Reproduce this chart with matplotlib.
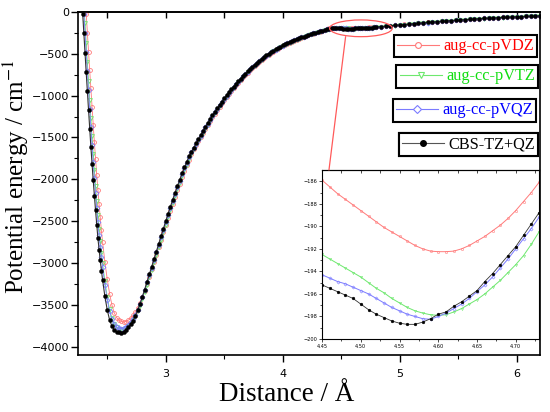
import numpy as np
import matplotlib
matplotlib.use('Agg')
import matplotlib.pyplot as plt
from matplotlib.patches import Ellipse, ConnectionPatch
from matplotlib.lines import Line2D

# distance grid of the scan (finer on the repulsive wall)
distance = np.round(np.concatenate([np.arange(2.26, 2.455, 0.01),
                                    np.arange(2.46, 4.805, 0.02),
                                    np.arange(4.84, 6.205, 0.04)]), 2)

vdz = [1350, 1130, 905, 677, 445, 213, -19, -247, -474, -696,
       -914, -1131, -1349, -1557, -1755, -1944, -2123, -2292, -2456, -2611,
       -2746, -2988, -3191, -3365, -3501, -3595, -3652, -3683, -3699, -3705,
       -3700, -3684, -3660, -3627, -3588, -3539, -3480, -3412, -3334, -3250,
       -3164, -3077, -2990, -2901, -2813, -2724, -2635, -2548, -2461, -2375,
       -2292, -2210, -2128, -2050, -1974, -1901, -1831, -1764, -1699, -1642,
       -1592, -1542, -1494, -1446, -1397, -1351, -1305, -1260, -1216, -1174,
       -1133, -1093, -1054, -1017, -981, -946, -911, -878, -845, -814,
       -783, -754, -725, -698, -671, -646, -621, -598, -574, -553,
       -532, -513, -493, -474, -456, -439, -424, -408, -394, -380,
       -367, -354, -342, -331, -319, -308, -298, -288, -278, -269,
       -259, -250, -242, -234, -226, -215, -205, -196, -190, -186.0,
       -186.5, -187.6, -188.6, -189.6, -190.5, -191.3, -192.0, -192.25, -192.2, -191.7,
       -190.9, -189.9, -188.6, -187.0, -185.2, -183.2, -181.0, -178.7,
       -174, -169, -164, -159, -154, -149, -144, -139, -134, -129,
       -124, -119, -115, -110, -106, -102, -98, -94, -90, -86,
       -83, -79, -76, -73, -70, -67, -64, -61, -59, -56,
       -54, -51, -49, -47, -45]

vtz = [1049, 812, 574, 337, 99, -136, -368, -599, -824, -1046,
       -1269, -1487, -1695, -1893, -2081, -2259, -2430, -2594, -2742, -2876,
       -3000, -3218, -3406, -3554, -3662, -3728, -3765, -3784, -3792, -3790,
       -3777, -3755, -3723, -3684, -3637, -3579, -3511, -3434, -3349, -3262,
       -3172, -3083, -2993, -2903, -2812, -2721, -2631, -2542, -2453, -2368,
       -2283, -2199, -2119, -2040, -1965, -1892, -1823, -1756, -1695, -1642,
       -1591, -1542, -1492, -1443, -1395, -1348, -1301, -1256, -1213, -1171,
       -1129, -1089, -1051, -1014, -977, -942, -907, -874, -842, -810,
       -780, -750, -722, -694, -668, -642, -618, -594, -572, -550,
       -530, -510, -490, -472, -454, -438, -422, -407, -393, -379,
       -366, -353, -342, -330, -319, -308, -297, -288, -278, -268,
       -259, -250, -242, -234, -226, -218, -210, -203, -197, -193,
       -192.9, -193.7, -194.5, -195.5, -196.4, -197.2, -197.7, -197.9, -197.6, -196.9,
       -196.0, -194.8, -193.4, -191.6, -189.5, -187.3, -185.0, -182.6,
       -177.5, -172.5, -167, -162, -157, -152, -147, -142, -137, -132,
       -127, -122, -117, -113, -108, -104, -100, -96, -92, -88,
       -85, -81, -78, -75, -72, -69, -66, -63, -61, -58,
       -56, -53, -51, -49, -47]

vqz = [929, 692, 454, 217, -20, -252, -484, -711, -934, -1156,
       -1378, -1591, -1793, -1986, -2169, -2342, -2510, -2668, -2806, -2934,
       -3053, -3260, -3438, -3577, -3673, -3732, -3763, -3779, -3785, -3780,
       -3764, -3740, -3706, -3665, -3616, -3556, -3486, -3407, -3321, -3233,
       -3144, -3055, -2964, -2874, -2783, -2692, -2603, -2514, -2427, -2342,
       -2258, -2175, -2095, -2017, -1942, -1870, -1802, -1736, -1678, -1626,
       -1576, -1526, -1477, -1428, -1380, -1334, -1287, -1243, -1199, -1158,
       -1116, -1077, -1039, -1002, -966, -931, -897, -864, -832, -800,
       -771, -741, -713, -686, -660, -634, -611, -587, -565, -543,
       -524, -504, -484, -466, -449, -433, -417, -402, -388, -375,
       -362, -350, -338, -326, -315, -304, -294, -285, -275, -265,
       -256, -247, -239, -231, -223, -215, -207, -201, -196, -194,
       -194.6, -195.1, -195.7, -196.4, -197.2, -197.8, -198.2, -198.0, -197.3, -196.4,
       -195.2, -193.7, -192.0, -190.2, -188.2, -186.0, -183.6, -181.1,
       -176, -171, -166, -161, -156, -151, -146, -141, -136, -131,
       -126, -121, -116, -112, -107, -103, -99, -95, -91, -88,
       -84, -81, -77, -74, -71, -68, -65, -63, -60, -58,
       -55, -53, -50, -48, -46]

cbs = [700, 460, 220, -20, -255, -490, -720, -945, -1170, -1395,
       -1610, -1815, -2010, -2195, -2370, -2540, -2700, -2840, -2970, -3090,
       -3200, -3400, -3560, -3680, -3755, -3798, -3820, -3830, -3831, -3820,
       -3800, -3770, -3732, -3688, -3632, -3565, -3490, -3405, -3317, -3227,
       -3137, -3046, -2955, -2863, -2771, -2680, -2590, -2500, -2413, -2327,
       -2242, -2160, -2080, -2003, -1929, -1858, -1790, -1725, -1672, -1620,
       -1570, -1520, -1470, -1421, -1373, -1326, -1280, -1236, -1193, -1151,
       -1110, -1071, -1033, -996, -960, -925, -891, -858, -826, -795,
       -765, -736, -708, -681, -655, -630, -606, -583, -561, -540,
       -520, -500, -481, -463, -446, -430, -415, -400, -386, -373,
       -360, -348, -336, -325, -314, -303, -293, -283, -273, -264,
       -255, -246, -238, -230, -222, -214, -207, -201, -197, -195,
       -195.5, -196.1, -196.9, -197.8, -198.4, -198.7, -198.5, -197.8, -197.1, -196.2,
       -194.9, -193.4, -191.8, -189.8, -187.8, -185.5, -183.0, -180.5,
       -175, -170, -165, -160, -155, -150, -145, -140, -135, -130,
       -125, -120, -116, -111, -107, -103, -99, -95, -91, -87,
       -84, -80, -77, -74, -71, -68, -65, -62, -60, -57,
       -55, -52, -50, -48, -46]

# zoomed region around the shallow outer minimum
dist_in = np.round(np.arange(4.45, 4.735, 0.01), 2)
vdz_in = [-185.9, -186.5, -187.1, -187.6, -188.1, -188.6, -189.1, -189.6, -190.1, -190.5,
          -190.9, -191.3, -191.7, -192.0, -192.2, -192.25, -192.25, -192.2, -192.0, -191.7,
          -191.3, -190.9, -190.4, -189.9, -189.3, -188.6, -187.8, -187.0, -186.1]
vtz_in = [-192.5, -192.9, -193.3, -193.7, -194.1, -194.5, -195.0, -195.5, -195.9, -196.4,
          -196.8, -197.2, -197.5, -197.7, -197.85, -197.9, -197.85, -197.6, -197.3, -196.9,
          -196.5, -196.0, -195.4, -194.8, -194.1, -193.4, -192.6, -191.6, -190.5]
vqz_in = [-194.3, -194.6, -194.9, -195.1, -195.4, -195.7, -196.0, -196.4, -196.8, -197.2,
          -197.5, -197.8, -198.0, -198.2, -198.25, -198.0, -197.7, -197.3, -196.9, -196.4,
          -195.8, -195.2, -194.5, -193.7, -192.9, -192.0, -191.1, -190.2, -189.2]
cbs_in = [-195.2, -195.5, -195.8, -196.1, -196.4, -196.9, -197.4, -197.8, -198.1, -198.4,
          -198.6, -198.7, -198.7, -198.5, -198.2, -197.8, -197.6, -197.1, -196.7, -196.2,
          -195.7, -194.9, -194.2, -193.4, -192.6, -191.8, -190.8, -189.8, -188.8]

labels = ['aug-cc-pVDZ', 'aug-cc-pVTZ', 'aug-cc-pVQZ', 'CBS-TZ+QZ']
line_colors = ['#ff7a7a', '#6ee86e', '#7b7bff', '#333333']
text_colors = ['#ff0000', '#11dd11', '#0000ff', '#000000']
markers = ['o', 'v', 'D', 'o']

plt.rcParams['mathtext.fontset'] = 'stix'
plt.rcParams['font.size'] = 8
serif = 'Liberation Serif'

fig = plt.figure(figsize=(5.5, 4.12), dpi=100)
ax = fig.add_axes([0.1418, 0.1383, 0.84, 0.8326])

main_series = [vdz, vtz, vqz, cbs]
for i, yy in enumerate(main_series):
    if i == 3:
        ax.plot(distance, yy, color=line_colors[i], lw=0.8, marker='o', ms=2.9,
                mfc='black', mec='black', mew=0.3)
    else:
        ax.plot(distance, yy, color=line_colors[i], lw=0.6, marker=markers[i],
                ms=2.8 if i != 2 else 2.5, mfc='none', mec=line_colors[i], mew=0.6)

ax.set_xlim(2.25, 6.2)
ax.set_ylim(-4100, 0)
ax.set_xticks([3, 4, 5, 6])
ax.set_xticks([2.5, 3.5, 4.5, 5.5], minor=True)
ax.set_yticks(np.arange(-4000, 1, 500))
ax.set_yticks(np.arange(-4000, 1, 250), minor=True)
ax.tick_params(which='major', direction='out', length=5, width=1, labelsize=8)
ax.tick_params(which='minor', direction='out', length=3, width=0.8)
ax.tick_params(axis='x', which='major', pad=5)
ax.tick_params(axis='y', which='major', pad=1.5)
for s in ax.spines.values():
    s.set_linewidth(1.2)

top = ax.secondary_xaxis('top')
top.set_xticks([3, 4, 5, 6])
top.set_xticks([2.5, 3.5, 4.5, 5.5], minor=True)
top.tick_params(which='both', direction='in', length=4, width=1, labeltop=False)
top.spines['top'].set_linewidth(1.2)

ax.set_xlabel('Distance / Å', fontsize=19.5, family=serif)
ax.xaxis.set_label_coords(0.452, -0.08)
ax.set_ylabel('Potential energy / cm$^{-1}$', fontsize=18, family=serif)
ax.yaxis.set_label_coords(-0.102, 0.52)

# one framed box per series, stacked on the right
anchors = [(0.9935, 0.933), (0.9957, 0.845), (0.991, 0.746), (0.9957, 0.647)]
for i in range(4):
    if i == 3:
        h = Line2D([], [], color='#555555', lw=0.8, marker='o', ms=4,
                   mfc='black', mec='black')
    else:
        h = Line2D([], [], color=line_colors[i], lw=0.8, marker=markers[i],
                   ms=4.2, mfc='white', mec=line_colors[i], mew=0.8)
    leg = ax.legend([h], [labels[i]], loc='upper right', bbox_to_anchor=anchors[i],
                    prop={'family': serif, 'size': 11.7}, fancybox=False,
                    edgecolor='black', framealpha=1, borderpad=0.2,
                    handlelength=2.6, handletextpad=0.25, borderaxespad=0)
    leg.get_frame().set_linewidth(1.5)
    leg.get_texts()[0].set_color(text_colors[i])
    ax.add_artist(leg)

# inset
axin = fig.add_axes([0.5855, 0.1772, 0.3945, 0.4102])
in_series = [vdz_in, vtz_in, vqz_in, cbs_in]
for i, yy in enumerate(in_series):
    if i == 3:
        axin.plot(dist_in, yy, color='#333333', lw=0.6, marker='o', ms=2,
                  mfc='black', mec='black', mew=0.3)
    else:
        axin.plot(dist_in, yy, color=line_colors[i], lw=0.7, marker=markers[i],
                  ms=1.6, mfc='none', mec=line_colors[i], mew=0.4)
axin.set_xlim(4.45, 4.73)
axin.set_ylim(-200, -185)
axin.set_xticks([4.45, 4.50, 4.55, 4.60, 4.65, 4.70])
axin.set_xticklabels(['4.45', '4.50', '4.55', '4.60', '4.65', '4.70'])
axin.set_xticks(np.arange(4.475, 4.73, 0.05), minor=True)
axin.set_yticks(np.arange(-200, -185, 2))
axin.set_yticks(np.arange(-199, -185, 2), minor=True)
axin.tick_params(which='major', direction='out', length=2, width=0.5,
                 labelsize=3.6, pad=1.5)
axin.tick_params(which='minor', direction='out', length=1.2, width=0.5)
for s in axin.spines.values():
    s.set_linewidth(0.8)
intop = axin.secondary_xaxis('top')
intop.set_xticks(np.arange(4.45, 4.73, 0.025))
intop.tick_params(direction='in', length=2, width=0.5, labeltop=False)

# highlight of the zoomed region
ell = Ellipse((4.669, -195), 0.536, 200, fill=False, ec='#ff5a5a', lw=0.9, zorder=6)
ax.add_patch(ell)
con = ConnectionPatch(xyA=(4.538, -295), coordsA='data', axesA=ax,
                      xyB=(0.032, 1.0), coordsB='axes fraction', axesB=axin,
                      color='#ff5a5a', lw=0.9)
fig.add_artist(con)

fig.savefig('out.png', dpi=100)
